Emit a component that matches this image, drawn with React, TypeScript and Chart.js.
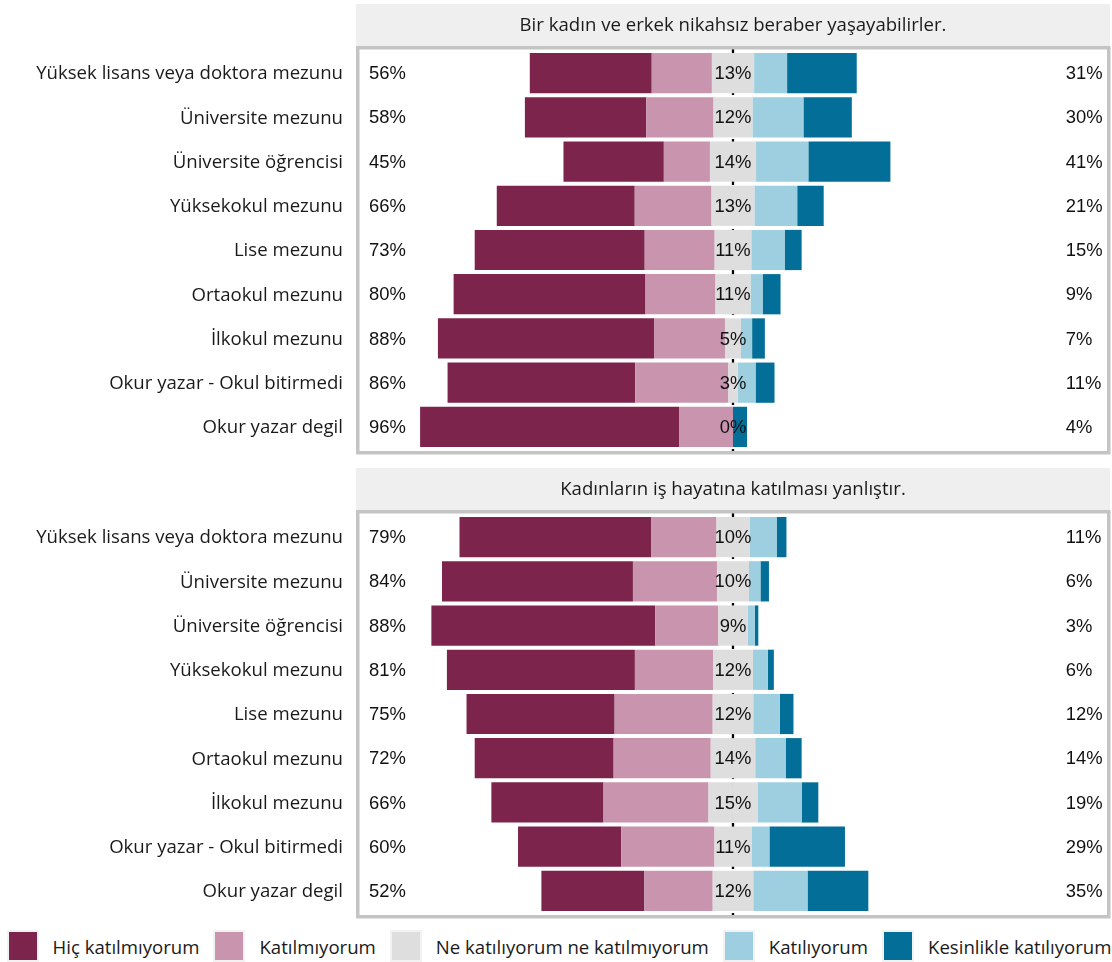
import React, { useEffect, useRef } from "react";
import { Chart, registerables } from "chart.js";

Chart.register(...registerables);

// ---------- DATA ----------
const categories = [
  "Yüksek lisans veya doktora mezunu",
  "Üniversite mezunu",
  "Üniversite öğrencisi",
  "Yüksekokul mezunu",
  "Lise mezunu",
  "Ortaokul mezunu",
  "İlkokul mezunu",
  "Okur yazar - Okul bitirmedi",
  "Okur yazar degil",
];

const legendLabels = [
  "Hiç katılmıyorum",
  "Katılmıyorum",
  "Ne katılıyorum ne katılmıyorum",
  "Katılıyorum",
  "Kesinlikle katılıyorum",
];

const titleTop = "Bir kadın ve erkek nikahsız beraber yaşayabilirler.";
const titleBottom = "Kadınların iş hayatına katılması yanlıştır.";

// Panel 1: "Bir kadın ve erkek nikahsız beraber yaşayabilirler."
const hic1 = [37.3, 37.1, 30.7, 42.2, 52.0, 58.7, 66.1, 57.4, 79.2];
const kat1 = [18.4, 20.6, 14.1, 23.5, 21.4, 21.4, 21.7, 28.5, 16.5];
const neu1 = [12.9, 11.9, 14.1, 13.1, 11.2, 10.7, 4.9, 2.8, 0];
const agr1 = [10.1, 15.6, 16.0, 13.1, 10.2, 3.7, 3.4, 5.5, 0];
const kes1 = [21.3, 14.8, 25.1, 8.1, 5.2, 5.5, 3.9, 5.8, 4.3];

// Panel 2: "Kadınların iş hayatına katılması yanlıştır."
const hic2 = [58.7, 58.4, 68.5, 57.5, 45.3, 42.5, 34.3, 31.6, 31.4];
const kat2 = [19.9, 25.7, 19.3, 23.9, 30.0, 29.7, 32.1, 28.5, 21.0];
const neu2 = [10.1, 9.8, 8.9, 12.2, 12.4, 13.6, 15.0, 11.3, 12.4];
const agr2 = [8.3, 3.5, 2.2, 4.6, 8.1, 9.3, 13.5, 5.5, 16.6];
const kes2 = [3.0, 2.6, 1.1, 1.8, 4.2, 4.9, 5.1, 23.1, 18.6];

const colors = ["#7C244C", "#C894AE", "#DEDEDE", "#9ECFE0", "#036F99"];

const X_MIN = -115;
const X_MAX = 114.4;
const LEFT_LABEL_X = -111.3;
const RIGHT_LABEL_X = 101.8;

const W = 1112;
const H = 460;
const LABEL_FONT = '18.6px "Open Sans"';
const PCT_FONT = '18.4px "Liberation Sans"';

type PanelProps = {
  top: number;
  title: string;
  hic: number[];
  kat: number[];
  neu: number[];
  agr: number[];
  kes: number[];
};

function Panel({ top, title, hic, kat, neu, agr, kes }: PanelProps) {
  const ref = useRef<HTMLCanvasElement | null>(null);

  useEffect(() => {
    const canvas = ref.current;
    if (!canvas) return;

    const decor = {
      id: "likertDecor",
      beforeDraw(chart: any) {
        const { ctx } = chart;
        ctx.save();
        // strip
        ctx.fillStyle = "#EFEFEF";
        ctx.fillRect(356, 4, 1110 - 356, 42);
        ctx.fillStyle = "#1A1A1A";
        ctx.font = '18.6px "Open Sans"';
        ctx.textAlign = "center";
        ctx.textBaseline = "middle";
        ctx.fillText(title, 733, 26);
        // panel bg
        ctx.fillStyle = "#FFFFFF";
        ctx.fillRect(357, 47, 752, 406);
        ctx.restore();
      },
      beforeDatasetsDraw(chart: any) {
        const { ctx, scales } = chart;
        const x0 = scales.x.getPixelForValue(0);
        ctx.save();
        ctx.strokeStyle = "#000000";
        ctx.lineWidth = 2.3;
        ctx.setLineDash([6, 4]);
        ctx.beginPath();
        ctx.moveTo(x0, 49);
        ctx.lineTo(x0, 452);
        ctx.stroke();
        ctx.restore();
      },
      afterDatasetsDraw(chart: any) {
        const { ctx, scales } = chart;
        const xs = scales.x;
        const ys = scales.y;
        ctx.save();
        // border
        ctx.strokeStyle = "#C4C4C4";
        ctx.lineWidth = 3.5;
        ctx.strokeRect(357.75, 47.75, 751, 405);
        ctx.textBaseline = "middle";
        categories.forEach((cat, i) => {
          const y = ys.getPixelForValue(i);
          ctx.fillStyle = "#1A1A1A";
          ctx.font = LABEL_FONT;
          ctx.textAlign = "right";
          ctx.fillText(cat, 343, y + 1);
          ctx.font = PCT_FONT;
          ctx.fillStyle = "#111111";
          ctx.textAlign = "left";
          const left = Math.round(hic[i] + kat[i]);
          const right = Math.round(agr[i] + kes[i]);
          const mid = Math.round(neu[i]);
          ctx.fillText(left + "%", xs.getPixelForValue(LEFT_LABEL_X), y + 1);
          ctx.fillText(right + "%", xs.getPixelForValue(RIGHT_LABEL_X), y + 1);
          ctx.textAlign = "center";
          ctx.fillText(mid + "%", xs.getPixelForValue(0), y + 1);
        });
        ctx.restore();
      },
    };

    const common = {
      barPercentage: 0.91,
      categoryPercentage: 1,
      borderWidth: 0,
      stack: "s",
    };

    const chart = new Chart(canvas, {
      type: "bar",
      data: {
        labels: categories,
        datasets: [
          { ...common, label: "neuL", data: neu.map((v) => -v / 2), backgroundColor: colors[2] },
          { ...common, label: legendLabels[1], data: kat.map((v) => -v), backgroundColor: colors[1] },
          { ...common, label: legendLabels[0], data: hic.map((v) => -v), backgroundColor: colors[0] },
          { ...common, label: "neuR", data: neu.map((v) => v / 2), backgroundColor: colors[2] },
          { ...common, label: legendLabels[3], data: agr, backgroundColor: colors[3] },
          { ...common, label: legendLabels[4], data: kes, backgroundColor: colors[4] },
        ],
      },
      options: {
        indexAxis: "y",
        animation: false,
        responsive: false,
        maintainAspectRatio: false,
        layout: { padding: { left: 357, right: W - 1107, top: 51, bottom: H - 449 } },
        plugins: { legend: { display: false }, tooltip: { enabled: false }, title: { display: false } },
        scales: {
          x: { type: "linear", min: X_MIN, max: X_MAX, stacked: true, display: false },
          y: { type: "category", stacked: true, display: false, offset: true },
        },
      },
      plugins: [decor],
    } as any);

    return () => chart.destroy();
  }, [title, hic, kat, neu, agr, kes]);

  return (
    <canvas
      ref={ref}
      width={W}
      height={H}
      style={{ position: "absolute", left: 0, top, width: W, height: H }}
    />
  );
}

export default function App() {
  return (
    <div style={{ position: "absolute", left: 0, top: 0, width: W, height: 962, background: "#fff", overflow: "hidden" }}>
      <Panel top={0} title={titleTop} hic={hic1} kat={kat1} neu={neu1} agr={agr1} kes={kes1} />
      <Panel top={464} title={titleBottom} hic={hic2} kat={kat2} neu={neu2} agr={agr2} kes={kes2} />
      <div
        style={{
          position: "absolute",
          left: 4,
          top: 932,
          width: W,
          height: 28,
          display: "flex",
          justifyContent: "center",
          alignItems: "center",
          fontFamily: '"Open Sans"',
          fontSize: 18.6,
          color: "#1A1A1A",
          gap: 16,
        }}
      >
        {legendLabels.map((lab, i) => (
          <div key={lab} style={{ display: "flex", alignItems: "center" }}>
            <div
              style={{
                width: 28,
                height: 28,
                background: colors[i],
                boxShadow: "0 0 0 2px #F2F2F2",
                marginRight: 16,
              }}
            />
            <span style={{ whiteSpace: "nowrap" }}>{lab}</span>
          </div>
        ))}
      </div>
    </div>
  );
}
